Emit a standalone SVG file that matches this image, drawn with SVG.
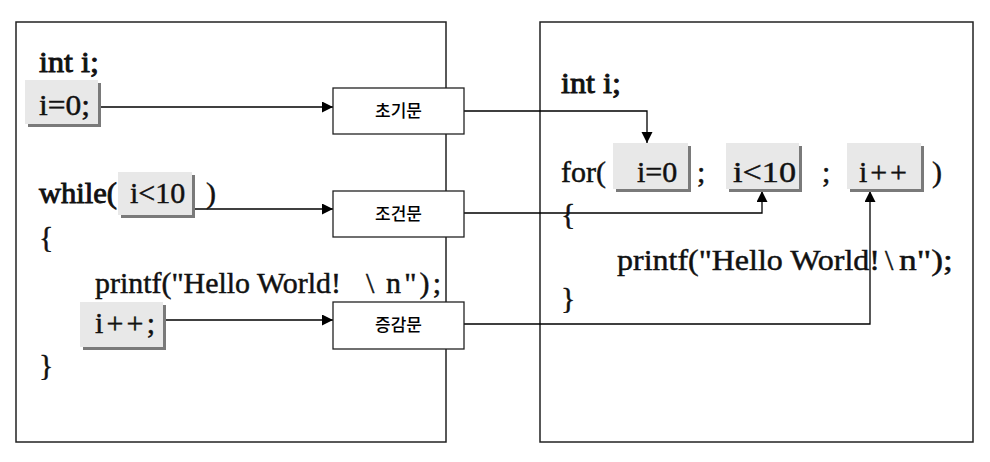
<svg xmlns="http://www.w3.org/2000/svg" width="990" height="462" viewBox="0 0 990 462">
<defs>
<marker id="ah" markerUnits="userSpaceOnUse" markerWidth="12" markerHeight="12" refX="11" refY="5.5" orient="auto"><path d="M0,0 L11,5.5 L0,11 z" fill="#000"/></marker>
</defs>
<style>
.panel{fill:#fff;stroke:#222;stroke-width:1.5}
.code{font-family:"Liberation Serif","Times New Roman",serif;font-size:30px;fill:#111;stroke:#111;stroke-width:0.45}
.b{stroke-width:0.9}
.hl{fill:#e8e8e8}
.sh{fill:#7a7a7a}
.lbox{fill:#fff;stroke:#222;stroke-width:1.3}
.lbl{font-family:"Noto Sans CJK KR","Noto Sans",sans-serif;font-size:17px;font-weight:500;text-anchor:middle;fill:#000}
.conn{fill:none;stroke:#000;stroke-width:1.3}
</style>
<rect width="990" height="462" fill="#fff"/>

<g id="left-panel">
<rect class="panel" x="16" y="22" width="430" height="420"/>
</g>
<g id="right-panel">
<rect class="panel" x="540" y="22" width="433" height="420"/>
</g>

<g id="connectors">
<line class="conn" x1="101" y1="107" x2="333" y2="107" marker-end="url(#ah)"/>
<line class="conn" x1="194" y1="209" x2="333" y2="209" marker-end="url(#ah)"/>
<line class="conn" x1="166" y1="320" x2="333" y2="320" marker-end="url(#ah)"/>
<polyline class="conn" points="464,111 647,111 647,143" marker-end="url(#ah)"/>
<polyline class="conn" points="464,213 762,213 762,191" marker-end="url(#ah)"/>
<polyline class="conn" points="464,324 870,324 870,191" marker-end="url(#ah)"/>
</g>

<g id="init-box">
<rect class="lbox" x="333" y="88" width="131" height="46"/>
<text class="lbl" x="398.5" y="117">초기문</text>
</g>
<g id="cond-box">
<rect class="lbox" x="333" y="191" width="131" height="46"/>
<text class="lbl" x="398.5" y="220">조건문</text>
</g>
<g id="incr-box">
<rect class="lbox" x="333" y="302" width="131" height="47"/>
<text class="lbl" x="398.5" y="331">증감문</text>
</g>

<g id="left-code">
<text class="code b" x="39" y="72" textLength="60" lengthAdjust="spacingAndGlyphs">int i;</text>
<g id="left-init">
<rect class="sh" x="28" y="83" width="73" height="44"/>
<rect class="hl" x="25" y="80" width="73" height="44"/>
<text class="code" x="39" y="115" textLength="51" lengthAdjust="spacingAndGlyphs">i=0;</text>
</g>
<text class="code b" x="39" y="203" textLength="78" lengthAdjust="spacingAndGlyphs">while(</text>
<g id="left-cond">
<rect class="sh" x="121" y="175" width="74" height="43"/>
<rect class="hl" x="118" y="172" width="74" height="43"/>
<text class="code" x="130" y="203">i&lt;10</text>
</g>
<text class="code" x="206" y="203">)</text>
<text class="code" x="39" y="247">{</text>
<text class="code" x="95" y="293" textLength="246" lengthAdjust="spacingAndGlyphs">printf("Hello World!</text>
<text class="code" x="366" y="293">\</text>
<text class="code" x="386" y="293" textLength="55" lengthAdjust="spacing">n");</text>
<g id="left-incr">
<rect class="sh" x="83" y="305" width="83" height="45"/>
<rect class="hl" x="80" y="302" width="83" height="45"/>
<text class="code" x="95" y="333" textLength="60" lengthAdjust="spacing">i++;</text>
</g>
<text class="code" x="39" y="375">}</text>
</g>

<g id="right-code">
<text class="code b" x="561" y="93" textLength="60" lengthAdjust="spacingAndGlyphs">int i;</text>
<text class="code" x="561" y="182">for(</text>
<g id="for-init">
<rect class="sh" x="616" y="146" width="75" height="46"/>
<rect class="hl" x="613" y="143" width="75" height="46"/>
<text class="code" x="637" y="182">i=0</text>
</g>
<text class="code" x="697" y="182">;</text>
<g id="for-cond">
<rect class="sh" x="729" y="146" width="73" height="46"/>
<rect class="hl" x="726" y="143" width="73" height="46"/>
<text class="code" x="733" y="182" textLength="63" lengthAdjust="spacingAndGlyphs">i&lt;10</text>
</g>
<text class="code" x="822" y="182">;</text>
<g id="for-incr">
<rect class="sh" x="850" y="146" width="74" height="46"/>
<rect class="hl" x="847" y="143" width="74" height="46"/>
<text class="code" x="859" y="182" textLength="48" lengthAdjust="spacing">i++</text>
</g>
<text class="code" x="932" y="182">)</text>
<text class="code" x="561" y="224">{</text>
<text class="code" x="617" y="270" textLength="263" lengthAdjust="spacingAndGlyphs">printf("Hello World!</text>
<text class="code" x="885" y="270">\</text>
<text class="code" x="899" y="270" textLength="54" lengthAdjust="spacingAndGlyphs">n");</text>
<text class="code" x="561" y="308">}</text>
</g>
</svg>
